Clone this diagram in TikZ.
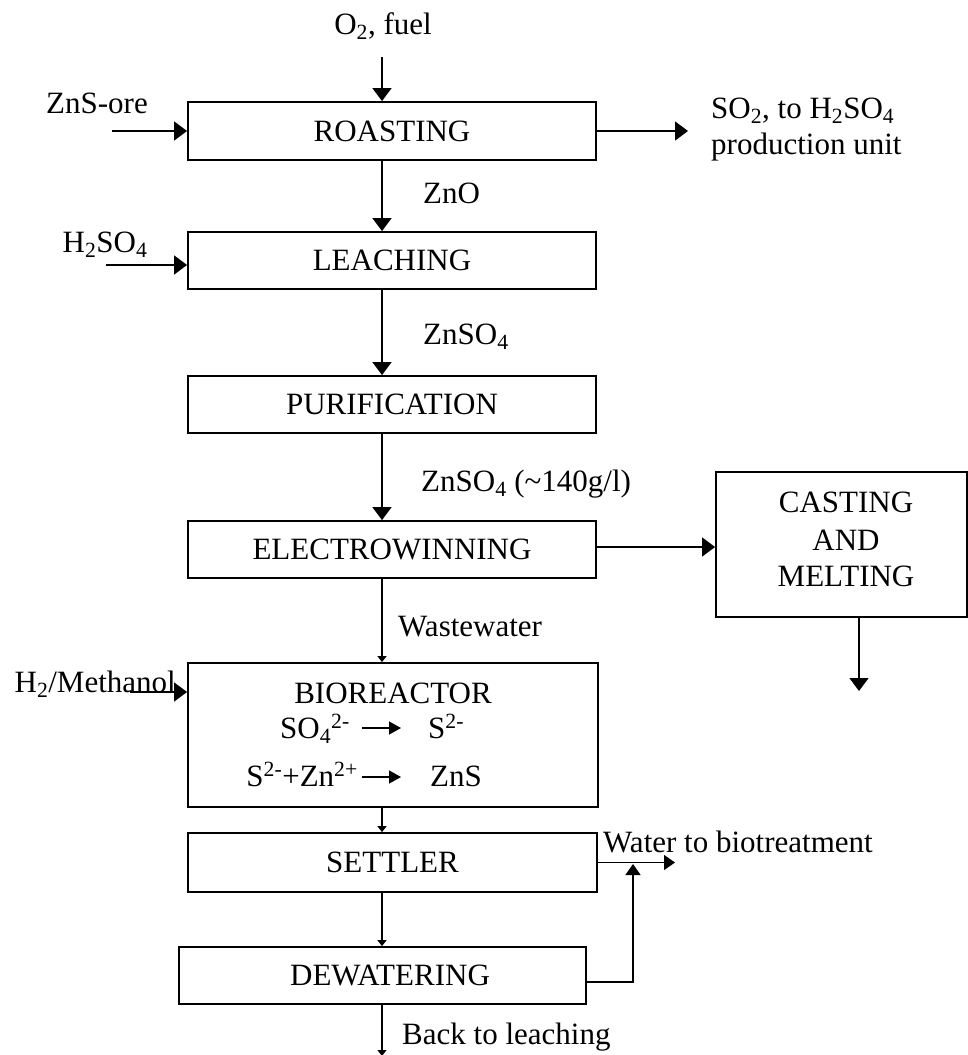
\documentclass[tikz,border=0pt]{standalone}
\usepackage{fontspec}
\setmainfont{Liberation Serif}
\usetikzlibrary{arrows.meta}
\begin{document}
\begin{tikzpicture}[x=1pt,y=-1pt,
  font=\fontsize{31}{36.5}\selectfont,
  box/.style={draw, line width=1.8pt, inner sep=0pt},
  arr/.style={line width=1.4pt, -{Triangle[length=13pt,width=19pt]}},
  arrm/.style={line width=1.4pt, -{Triangle[length=11pt,width=15pt]}},
  arrs/.style={line width=1.1pt, -{Triangle[length=6pt,width=9pt]}},
  rx/.style={line width=1.5pt, -{Triangle[length=12pt,width=13pt]}},
  lbl/.style={inner sep=0pt}]
\useasboundingbox (0,0) rectangle (968,1055);

% boxes
\node[box, minimum width=408pt, minimum height=58pt] (roast)   at (392,131)   {ROASTING};
\node[box, minimum width=408pt, minimum height=57pt] (leach)   at (392,260.5) {LEACHING};
\node[box, minimum width=408pt, minimum height=57pt] (purif)   at (392,404.5) {PURIFICATION};
\node[box, minimum width=408pt, minimum height=57pt] (electro) at (392,549.5) {ELECTROWINNING};
\node[box, minimum width=251pt, minimum height=145pt] (cast)   at (841.5,544.5) {};
\node[box, minimum width=410pt, minimum height=144pt] (bio)    at (393,735) {};
\node[box, minimum width=409pt, minimum height=59pt] (settler) at (392.5,862.5) {SETTLER};
\node[box, minimum width=407pt, minimum height=57pt] (dewater) at (382.5,975.5) {};

% texts inside boxes
\node[lbl, anchor=base] (castT1) at (846,512) {CASTING};
\node[lbl, anchor=base] (castT2) at (846,550) {AND};
\node[lbl, anchor=base] (castT3) at (846,586) {MELTING};
\node[lbl] (bioT) at (393,693) {BIOREACTOR};
\node[lbl, anchor=base east] (r1a) at (350,738) {SO\textsubscript{4}\textsuperscript{2-}};
\node[lbl, anchor=base west] (r1b) at (428,738) {S\textsuperscript{2-}};
\node[lbl, anchor=base east] (r2a) at (358,786) {S\textsuperscript{2-}+Zn\textsuperscript{2+}};
\node[lbl, anchor=base west] (r2b) at (430,786) {ZnS};
\node[lbl] (dewT) at (390,975.5) {DEWATERING};
\coordinate (r1s) at (362,728);
\coordinate (r1e) at (401,728);
\coordinate (r2s) at (362,777);
\coordinate (r2e) at (401,777);
\draw[rx] (r1s) -- (r1e);
\draw[rx] (r2s) -- (r2e);

% outside labels
\node[lbl, anchor=base] (o2) at (383,34) {O\textsubscript{2}, fuel};
\node[lbl, anchor=base] (znsore) at (97,113) {ZnS-ore};
\node[lbl, anchor=base] (h2so4) at (105,252) {H\textsubscript{2}SO\textsubscript{4}};
\node[lbl, anchor=base east] (meth) at (176,692) {H\textsubscript{2}/Methanol};
\node[lbl, anchor=base west] (so2a) at (711,118) {SO\textsubscript{2}, to H\textsubscript{2}SO\textsubscript{4}};
\node[lbl, anchor=base west] (so2b) at (711,154) {production unit};
\node[lbl, anchor=base west] (zno) at (423,203) {ZnO};
\node[lbl, anchor=base west] (znso4) at (423,344) {ZnSO\textsubscript{4}};
\node[lbl, anchor=base west] (znso4b) at (421,491) {ZnSO\textsubscript{4} (\textasciitilde140g/l)};
\node[lbl, anchor=base west] (waste) at (398,636) {Wastewater};
\node[lbl, anchor=base west] (water) at (603,852) {Water to biotreatment};
\node[lbl, anchor=base west] (back) at (402,1044) {Back to leaching};

% coordinates
\coordinate (ax) at (382,0);
\coordinate (o2s) at (382,57);
\coordinate (znss) at (112,131);
\coordinate (h2s) at (106,265);
\coordinate (meths) at (130,692);
\coordinate (so2e) at (688,131);
\coordinate (cx) at (859,0);
\coordinate (caste) at (859,691);
\coordinate (watere) at (675,862.5);
\coordinate (dw) at (586,982);
\coordinate (up) at (633,982);
\coordinate (upe) at (633,864);
\coordinate (backe) at (382,1056);

% connectors
\draw[arr] (o2s) -- (roast.north -| ax);
\draw[arr] (znss) -- (znss -| roast.west);
\draw[arr] (roast.east) -- (so2e);
\draw[arr] (roast.south -| ax) -- (leach.north -| ax);
\draw[arr] (h2s) -- (h2s -| leach.west);
\draw[arr] (leach.south -| ax) -- (purif.north -| ax);
\draw[arr] (purif.south -| ax) -- (electro.north -| ax);
\draw[arr] (electro.east |- 0,547) -- (cast.west |- 0,547);
\draw[arr] (cast.south -| cx) -- (caste);
\draw[arrs] (electro.south -| ax) -- (bio.north -| ax);
\draw[arr] (meths) -- (meths -| bio.west);
\draw[arrs] (bio.south -| ax) -- (settler.north -| ax);
\draw[arrs] (settler.south -| ax) -- (dewater.north -| ax);
\draw[arrm] (settler.east) -- (watere);
\draw[arrm] (dw) -- (up) -- (upe);
\draw[arrs] (dewater.south -| ax) -- (backe);
\end{tikzpicture}
\end{document}
